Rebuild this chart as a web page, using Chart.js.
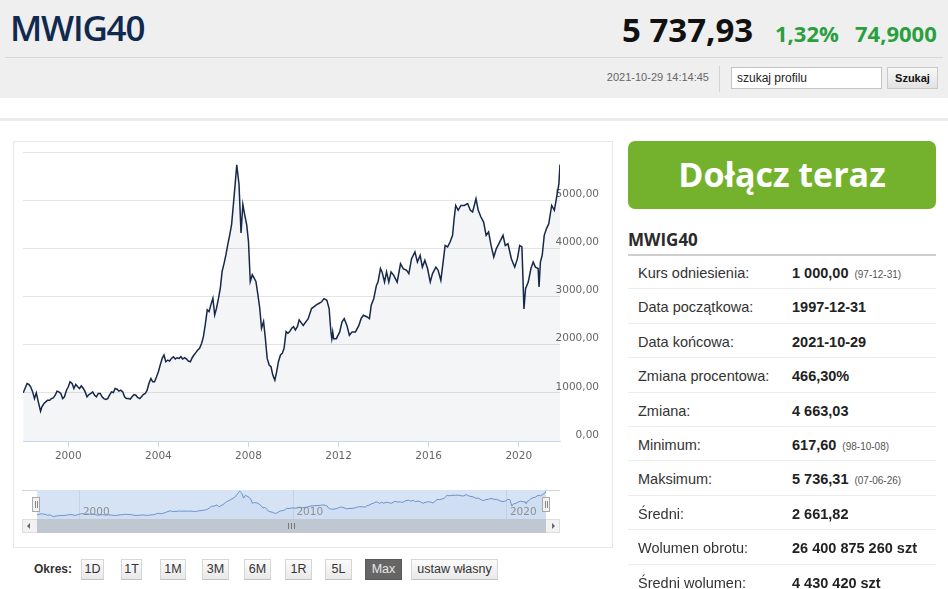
<!DOCTYPE html>
<html lang="pl">
<head>
<meta charset="utf-8">
<title>MWIG40</title>
<script src="https://cdn.jsdelivr.net/npm/chart.js@4.4.0/dist/chart.umd.min.js"></script>
<style>
  body { margin: 0; width: 948px; height: 589px; overflow: hidden; background: #fff; font-family: "Liberation Sans", Arial, sans-serif; color: #333; position: relative; }
  .abs { position: absolute; }
  #top { left: 0; top: 0; width: 948px; height: 98px; background: #efefef; }
  .osans { font-family: "Open Sans", sans-serif; white-space: nowrap; }
  #title { left: 10px; top: 10px; font-size: 35px; line-height: 36px; font-weight: 600; letter-spacing: -1.2px; color: #0f2a4e; }
  #price { left: 622px; top: 13px; font-size: 33px; line-height: 33px; font-weight: 700; color: #111; }
  .green { font-size: 22px; line-height: 22px; font-weight: 700; color: #2a9f3d; top: 22px; }
  #hr { left: 5px; top: 57px; width: 938px; height: 1px; background: #d8d8d8; }
  #stamp { left: 560px; width: 149px; top: 71px; font-size: 11px; color: #666; text-align: right; }
  #sep { left: 719px; top: 66px; width: 1px; height: 26px; background: #d4d4d4; }
  #search { left: 731px; top: 67px; width: 151px; height: 22px; box-sizing: border-box; border: 1px solid #c4c4c4; background: #fff; font-size: 12px; line-height: 20px; padding-left: 5px; color: #222; }
  #go { left: 887px; top: 67px; width: 51px; height: 22px; box-sizing: border-box; border: 1px solid #c8c8c8; background: linear-gradient(#f8f8f8, #e2e2e2); font-size: 11px; font-weight: 700; line-height: 20px; text-align: center; color: #111; }
  #band { left: 0; top: 118px; width: 948px; height: 3px; background: #ececec; }
  #box { left: 13px; top: 141px; width: 600px; height: 407px; box-sizing: border-box; border: 1px solid #e8e8e8; }
  #main { left: 13px; top: 141px; }
  #navtop { left: 22px; top: 490px; width: 538px; height: 0; border-top: 1px solid #cfd4da; }
  #nav { left: 37px; top: 490px; background: #d6e3f5; }
  .handle { top: 497px; width: 8px; height: 15px; box-sizing: border-box; background: #f2f2f2; border: 1px solid #a9a9a9; }
  .handle::before, .handle::after { content: ""; position: absolute; top: 3px; width: 1px; height: 7px; background: #888; }
  .handle::before { left: 2px; } .handle::after { left: 4px; }
  #track { left: 22px; top: 519px; width: 538px; height: 14px; box-sizing: border-box; border: 1px solid #ddd; background: #f2f2f2; }
  #bar { left: 37px; top: 519px; width: 509px; height: 14px; background: #bfc7d0; }
  #grip { left: 288px; top: 523px; width: 7px; height: 6px; border-left: 1px solid #777; border-right: 1px solid #777; box-sizing: border-box; }
  #grip::after { content: ""; position: absolute; left: 2px; top: 0; width: 1px; height: 6px; background: #777; }
  .arrow { top: 523px; width: 0; height: 0; border-top: 3px solid transparent; border-bottom: 3px solid transparent; }
  .btn { top: 559px; height: 21px; box-sizing: border-box; border: 1px solid #d6d6d6; border-bottom-color: #c2c2c2; background: linear-gradient(#fbfbfb, #e9e9e9); font-size: 12.5px; line-height: 19px; text-align: center; color: #333; }
  .btn.on { background: #666; border-color: #5a5a5a; color: #e8e8e8; }
  #okres { left: 34px; top: 562px; font-size: 12px; font-weight: 700; color: #333; }
  #join { left: 628px; top: 141px; width: 308px; height: 68px; border-radius: 7px; background: #74b22e; color: #fff; font-size: 34px; font-weight: 700; line-height: 66px; text-align: center; }
  #side { left: 628px; top: 231px; font-size: 17px; line-height: 17px; font-weight: 700; color: #2b2b2b; }
  #sideline { left: 628px; top: 254px; width: 308px; height: 2px; background: #cfcfcf; }
  .row { left: 628px; width: 308px; height: 34.4px; box-sizing: border-box; border-bottom: 1px solid #ececec; font-size: 14.5px; line-height: 37px; white-space: nowrap; }
  .row .l { position: absolute; left: 10px; color: #333; }
  .row .v { position: absolute; left: 164px; font-weight: 700; color: #222; }
  .row .v small { font-weight: 400; font-size: 10px; color: #555; margin-left: 6px; }
</style>
</head>
<body>
<div id="top" class="abs"></div>
<div id="title" class="abs osans">MWIG40</div>
<div id="price" class="abs osans">5 737,93</div>
<div class="abs osans green" style="left:775px">1,32%</div>
<div class="abs osans green" style="left:855px">74,9000</div>
<div id="hr" class="abs"></div>
<div id="stamp" class="abs">2021-10-29 14:14:45</div>
<div id="sep" class="abs"></div>
<div id="search" class="abs">szukaj profilu</div>
<div id="go" class="abs">Szukaj</div>
<div id="band" class="abs"></div>

<div id="box" class="abs"></div>
<canvas id="main" class="abs" width="599" height="340"></canvas>

<div id="navtop" class="abs"></div>
<canvas id="nav" class="abs" width="509" height="29"></canvas>
<div class="abs handle" style="left:32px"></div>
<div class="abs handle" style="left:542px"></div>
<div id="track" class="abs"></div>
<div id="bar" class="abs"></div>
<div id="grip" class="abs"></div>
<div class="abs arrow" style="left:27px;border-right:3px solid #666"></div>
<div class="abs arrow" style="left:552px;border-left:3px solid #666"></div>

<div id="okres" class="abs">Okres:</div>
<div class="abs btn" style="left:81px;width:23px">1D</div>
<div class="abs btn" style="left:121px;width:21px">1T</div>
<div class="abs btn" style="left:160px;width:26px">1M</div>
<div class="abs btn" style="left:202px;width:27px">3M</div>
<div class="abs btn" style="left:244px;width:27px">6M</div>
<div class="abs btn" style="left:285px;width:27px">1R</div>
<div class="abs btn" style="left:325px;width:27px">5L</div>
<div class="abs btn on" style="left:365px;width:37px">Max</div>
<div class="abs btn" style="left:411px;width:87px">ustaw własny</div>

<div id="join" class="abs osans">Dołącz teraz</div>
<div id="side" class="abs osans">MWIG40</div>
<div id="sideline" class="abs"></div>
<div id="rows"></div>

<script>
// odczyt z wykresu: czas (ułamek roku) i wartość indeksu
const dates = [
  1998.00, 1998.08, 1998.17, 1998.25, 1998.33, 1998.42, 1998.50, 1998.58, 1998.67, 1998.77, 1998.83, 1998.92,
  1999.00, 1999.08, 1999.17, 1999.25, 1999.33, 1999.42, 1999.50, 1999.58, 1999.67, 1999.75, 1999.83, 1999.92,
  2000.00, 2000.08, 2000.17, 2000.25, 2000.33, 2000.42, 2000.50, 2000.58, 2000.67, 2000.75, 2000.83, 2000.92,
  2001.00, 2001.08, 2001.17, 2001.25, 2001.33, 2001.42, 2001.50, 2001.58, 2001.67, 2001.75, 2001.83, 2001.92,
  2002.00, 2002.08, 2002.17, 2002.25, 2002.33, 2002.42, 2002.50, 2002.58, 2002.67, 2002.75, 2002.83, 2002.92,
  2003.00, 2003.08, 2003.17, 2003.25, 2003.33, 2003.42, 2003.50, 2003.58, 2003.67, 2003.75, 2003.83, 2003.92,
  2004.00, 2004.08, 2004.17, 2004.25, 2004.33, 2004.42, 2004.50, 2004.58, 2004.67, 2004.75, 2004.83, 2004.92,
  2005.00, 2005.08, 2005.17, 2005.25, 2005.33, 2005.42, 2005.50, 2005.58, 2005.67, 2005.75, 2005.83, 2005.92,
  2006.00, 2006.08, 2006.17, 2006.25, 2006.33, 2006.42, 2006.50, 2006.58, 2006.67, 2006.75, 2006.83, 2006.92,
  2007.00, 2007.08, 2007.17, 2007.25, 2007.33, 2007.42, 2007.48, 2007.58, 2007.67, 2007.75, 2007.83, 2007.92,
  2008.00, 2008.08, 2008.17, 2008.25, 2008.33, 2008.42, 2008.50, 2008.58, 2008.67, 2008.75, 2008.83, 2008.92,
  2009.00, 2009.08, 2009.17, 2009.25, 2009.33, 2009.42, 2009.50, 2009.58, 2009.67, 2009.75, 2009.83, 2009.92,
  2010.00, 2010.08, 2010.17, 2010.25, 2010.43, 2010.65, 2010.80,
  2011.00, 2011.10, 2011.25, 2011.35, 2011.48, 2011.58, 2011.66, 2011.70, 2011.74, 2011.78, 2011.90,
  2012.05, 2012.15, 2012.25, 2012.37, 2012.48, 2012.60, 2012.75, 2012.90,
  2013.00, 2013.10, 2013.27, 2013.37, 2013.45, 2013.56, 2013.68, 2013.75, 2013.86, 2013.93,
  2014.04, 2014.13, 2014.23, 2014.33, 2014.45, 2014.60, 2014.75, 2014.87,
  2015.02, 2015.12, 2015.24, 2015.39, 2015.50, 2015.62, 2015.72, 2015.83, 2015.95,
  2016.07, 2016.17, 2016.32, 2016.42, 2016.54, 2016.66, 2016.73, 2016.84, 2016.95,
  2017.06, 2017.13, 2017.20, 2017.31, 2017.43, 2017.58, 2017.73, 2017.85, 2017.95,
  2018.10, 2018.20, 2018.32, 2018.44, 2018.55, 2018.66, 2018.77, 2018.89,
  2019.00, 2019.15, 2019.30, 2019.40, 2019.52, 2019.67, 2019.82, 2019.94,
  2020.04, 2020.14, 2020.23, 2020.30, 2020.42, 2020.54, 2020.64, 2020.74, 2020.86, 2020.90, 2020.96,
  2021.04, 2021.13, 2021.23, 2021.33, 2021.46, 2021.58, 2021.68, 2021.78, 2021.83
];
const values = [
  1000, 1090, 1194, 1174, 1125, 1020, 880, 1000, 812, 618, 708, 778,
  812, 847, 847, 880, 896, 951, 1035, 1020, 986, 880, 917, 1055,
  1125, 1229, 1194, 1090, 1174, 1125, 1090, 1146, 1090, 1020, 917, 965,
  986, 1020, 951, 917, 986, 986, 917, 880, 861, 880, 951, 1020,
  1007, 1090, 1076, 1035, 1055, 1020, 917, 880, 880, 868, 917, 965,
  951, 903, 880, 917, 965, 986, 1055, 1194, 1299, 1229, 1229, 1333,
  1437, 1576, 1715, 1785, 1646, 1681, 1660, 1715, 1750, 1701, 1729, 1715,
  1750, 1701, 1729, 1701, 1660, 1646, 1729, 1785, 1840, 1889, 1924, 2028,
  2167, 2410, 2722, 2687, 2826, 2965, 2618, 2757, 2965, 3174, 3521, 3694,
  3868, 4076, 4285, 4493, 4910, 5396, 5736, 5326, 4320, 4910, 4701, 4493,
  4146, 3312, 3451, 3382, 3312, 3035, 2757, 2340, 2479, 2132, 1715, 1576,
  1542, 1368, 1264, 1437, 1646, 1785, 1819, 1924, 2271, 2236, 2271, 2340,
  2375, 2306, 2375, 2514, 2400, 2540, 2750,
  2820, 2850, 2890, 2955, 2920, 2750, 2265, 2125, 2265, 2125, 2125,
  2265, 2470, 2540, 2400, 2195, 2265, 2265, 2400,
  2540, 2610, 2575, 2540, 2820, 2955, 3230, 3300, 3580, 3510,
  3300, 3510, 3300, 3510, 3440, 3300, 3680, 3580,
  3545, 3475, 3785, 3925, 3715, 3855, 3610, 3750, 3580,
  3300, 3475, 3610, 3545, 3335, 3785, 4060, 4030, 4130,
  4270, 4615, 4890, 4790, 4890, 4890, 4930, 4790, 4755,
  5030, 4790, 4650, 4545, 4270, 4340, 4060, 3820,
  3990, 4130, 4270, 4060, 4095, 3785, 3610, 3785,
  4060, 4030, 2740, 3160, 3300, 3580, 3715, 3610, 3580, 3200, 3715,
  3855, 4270, 4410, 4510, 4890, 4790, 5065, 5340, 5738
];
const xTicks = [2000, 2004, 2008, 2012, 2016, 2020];
const yTicks = [0, 1000, 2000, 3000, 4000, 5000, 6000];
const navTicks = [2000, 2010, 2020];

const statLabels = ['Kurs odniesienia:', 'Data początkowa:', 'Data końcowa:', 'Zmiana procentowa:', 'Zmiana:',
  'Minimum:', 'Maksimum:', 'Średni:', 'Wolumen obrotu:', 'Średni wolumen:'];
const statValues = ['1 000,00', '1997-12-31', '2021-10-29', '466,30%', '4 663,03',
  '617,60', '5 736,31', '2 661,82', '26 400 875 260 szt', '4 430 420 szt'];
const statDates = ['97-12-31', '', '', '', '', '98-10-08', '07-06-26', '', '', ''];

const rows = document.getElementById('rows');
statLabels.forEach(function (label, i) {
  const row = document.createElement('div');
  row.className = 'abs row';
  row.style.top = (255 + i * 34.4) + 'px';
  row.innerHTML = '<span class="l">' + label + '</span><span class="v">' + statValues[i] +
    (statDates[i] ? '<small>(' + statDates[i] + ')</small>' : '') + '</span>';
  rows.appendChild(row);
});

const points = dates.map((t, i) => ({ x: t, y: values[i] }));
const tickFont = { family: 'DejaVu Sans', size: 10.5 };
const xMin = 1997.99, xMax = 2021.83;

new Chart(document.getElementById('main'), {
  type: 'line',
  data: {
    datasets: [{
      data: points,
      borderColor: '#17284a',
      borderWidth: 1.5,
      pointRadius: 0,
      fill: 'origin',
      backgroundColor: 'rgba(40,60,100,0.05)',
      tension: 0
    }]
  },
  options: {
    responsive: false,
    animation: false,
    layout: { padding: { left: 10, right: 13, top: 11, bottom: 0 } },
    plugins: { legend: { display: false }, tooltip: { enabled: false } },
    scales: {
      x: {
        type: 'linear',
        min: xMin,
        max: xMax,
        afterBuildTicks: s => { s.ticks = xTicks.map(v => ({ value: v })); },
        afterFit: s => { s.height = 40; },
        ticks: { callback: v => String(v), font: tickFont, color: '#666', padding: 3, maxRotation: 0, autoSkip: false },
        grid: { drawOnChartArea: false, drawTicks: true, tickLength: 6, color: '#ccd6eb' },
        border: { color: '#ccd6eb' }
      },
      y: {
        position: 'right',
        min: 0,
        max: 6000,
        afterBuildTicks: s => { s.ticks = yTicks.map(v => ({ value: v })); },
        afterFit: s => { s.width = 39; s.paddingTop = 0; s.paddingBottom = 0; },
        ticks: {
          // mirror: etykiety wyrównane do prawej krawędzi, mogą zachodzić na obszar wykresu
          callback: v => v === 6000 ? '' : v.toFixed(2).replace('.', ','),
          font: tickFont, color: '#666', mirror: true, padding: 39, labelOffset: -6
        },
        grid: { color: '#e4e4e4', drawTicks: false },
        border: { display: false }
      }
    }
  }
});

// etykiety lat w nawigatorze rysowane wewnątrz obszaru
const navLabels = {
  id: 'navLabels',
  afterDraw(chart) {
    const ctx = chart.ctx, sx = chart.scales.x;
    ctx.save();
    ctx.font = '10.5px "DejaVu Sans"';
    ctx.fillStyle = '#8f8f8f';
    ctx.textBaseline = 'alphabetic';
    navTicks.forEach(v => ctx.fillText(String(v), sx.getPixelForValue(v) + 3, 25));
    ctx.restore();
  }
};

new Chart(document.getElementById('nav'), {
  type: 'line',
  data: {
    datasets: [{
      data: points,
      borderColor: '#6a90c8',
      borderWidth: 1,
      pointRadius: 0,
      fill: 'origin',
      backgroundColor: 'rgba(90,130,200,0.05)',
      tension: 0
    }]
  },
  options: {
    responsive: false,
    animation: false,
    layout: { padding: 0 },
    plugins: { legend: { display: false }, tooltip: { enabled: false } },
    scales: {
      x: {
        type: 'linear',
        min: xMin,
        max: xMax,
        afterBuildTicks: s => { s.ticks = navTicks.map(v => ({ value: v })); },
        ticks: { display: false },
        grid: { color: 'rgba(0,0,0,0.07)', drawTicks: false },
        border: { display: false }
      },
      y: { display: false, min: 150, max: 5950 }
    }
  },
  plugins: [navLabels]
});
</script>
</body>
</html>
